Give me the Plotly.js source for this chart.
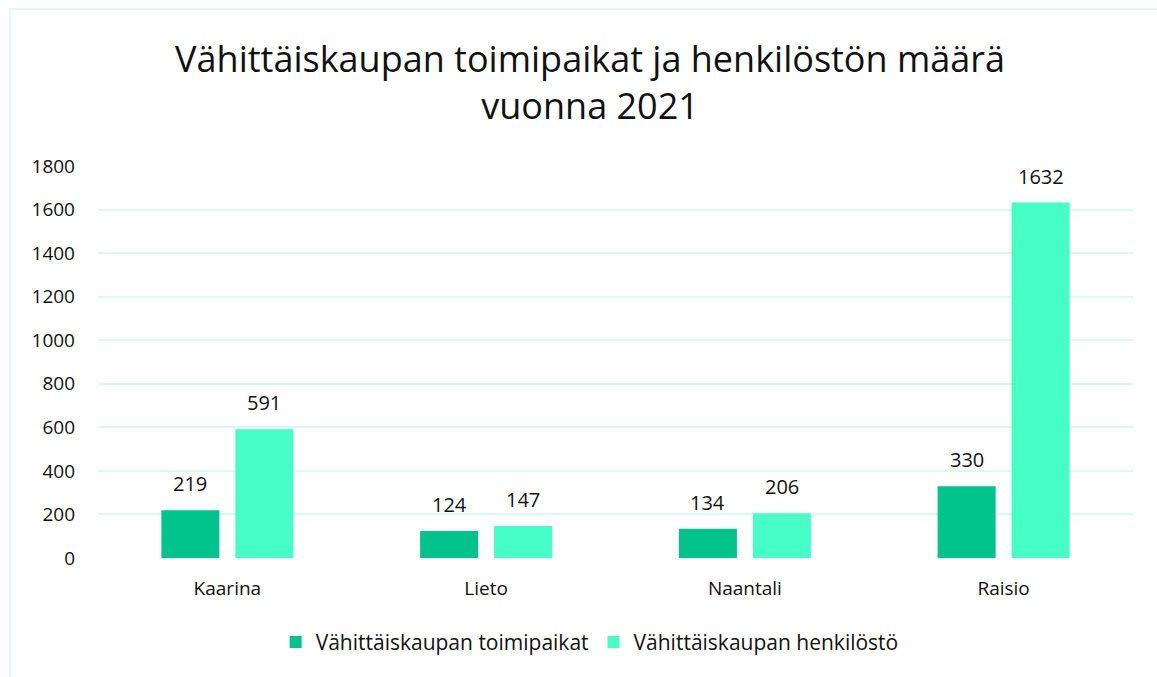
<!DOCTYPE html>
<html>
<head>
<meta charset="utf-8">
<script src="https://cdn.plot.ly/plotly-3.0.1.min.js"></script>
<style>
  html, body { margin: 0; padding: 0; background: #fff; }
  #wrap { position: relative; width: 1157px; height: 677px; overflow: hidden; }
  #chart { width: 1157px; height: 677px; }
  #frame { position: absolute; left: 9px; top: 8px; width: 1160px; height: 690px;
           border: 2px solid #DCFBF1; pointer-events: none; box-sizing: border-box; }
</style>
</head>
<body>
<div id="wrap">
  <div id="chart"></div>
  <div id="frame"></div>
</div>
<script>
const categories = ["Kaarina", "Lieto", "Naantali", "Raisio"];
const seriesNames = ["Vähittäiskaupan toimipaikat", "Vähittäiskaupan henkilöstö"];
const toimipaikat = [219, 124, 134, 330];
const henkilosto = [591, 147, 206, 1632];
const yTicks = [0, 200, 400, 600, 800, 1000, 1200, 1400, 1600, 1800];
const colors = ["#00C48B", "#45FFC6"];

const FONT = "'Open Sans', sans-serif";

const traces = [
  { type: "bar", name: seriesNames[0], x: categories, y: toimipaikat,
    marker: { color: colors[0] }, hoverinfo: "skip" },
  { type: "bar", name: seriesNames[1], x: categories, y: henkilosto,
    marker: { color: colors[1] }, hoverinfo: "skip" }
];

const annotations = [];
[toimipaikat, henkilosto].forEach((vals, si) => {
  vals.forEach((v, i) => {
    annotations.push({
      x: categories[i], y: v, xref: "x", yref: "y",
      text: String(v), showarrow: false,
      xanchor: "center", yanchor: "bottom",
      xshift: si === 0 ? -37 : 37, yshift: 11,
      font: { family: FONT, size: 20, color: "#111" }
    });
  });
});

const layout = {
  width: 1157, height: 677,
  autosize: false,
  paper_bgcolor: "#ffffff", plot_bgcolor: "#ffffff",
  margin: { l: 98, r: 24, t: 166, b: 119, autoexpand: false },
  title: {
    text: "Vähittäiskaupan toimipaikat ja henkilöstön määrä<br>vuonna 2021",
    font: { family: FONT, size: 36, color: "#111" },
    x: 0.51, xanchor: "center", xref: "container",
    y: 0.894, yanchor: "middle", yref: "container",
    automargin: false
  },
  barmode: "group",
  bargap: 0.428,
  bargroupgap: 0.216,
  xaxis: {
    type: "category",
    showgrid: false, zeroline: false, showline: false, ticks: "",
    tickfont: { family: FONT, size: 19, color: "#111" },
    ticklabelstandoff: 17, automargin: false
  },
  yaxis: {
    range: [0, 1800], tickvals: yTicks, ticktext: yTicks.map(String),
    showgrid: true, gridcolor: "#D6FBEF", gridwidth: 2,
    zeroline: false, showline: false, ticks: "",
    tickfont: { family: FONT, size: 19, color: "#111" },
    ticklabelstandoff: 22, automargin: false
  },
  showlegend: true,
  legend: {
    orientation: "h", xref: "paper", x: 0.475, xanchor: "center",
    yref: "paper", y: -0.215, yanchor: "middle",
    font: { family: FONT, size: 21, color: "#111" },
    itemwidth: 30, tracegroupgap: 0, itemclick: false
  },
  annotations: annotations
};

Plotly.newPlot("chart", traces, layout, { displayModeBar: false, staticPlot: true });
</script>
</body>
</html>
